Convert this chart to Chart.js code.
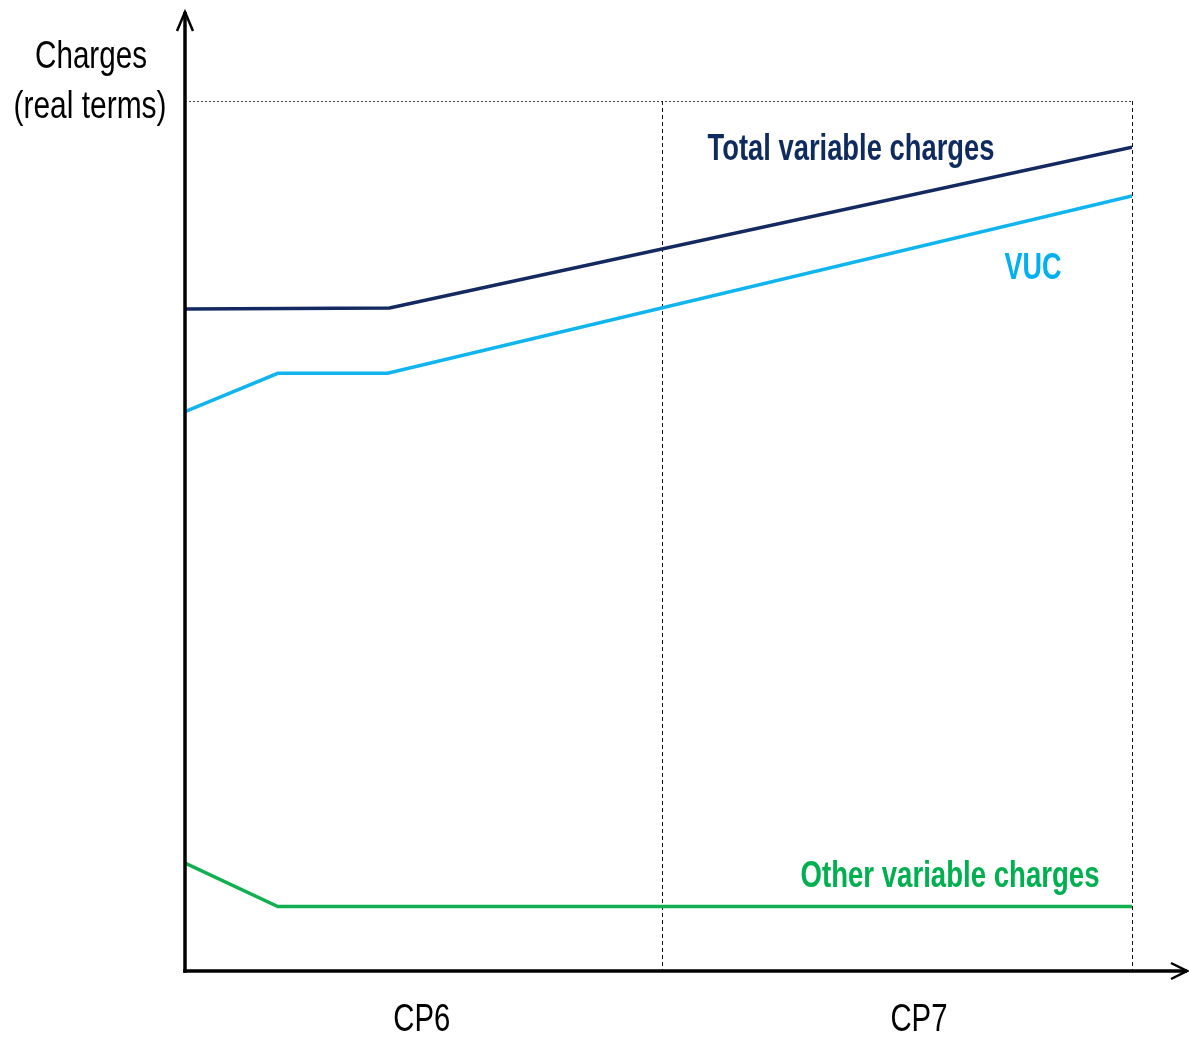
<!DOCTYPE html>
<html>
<head>
<meta charset="utf-8">
<script src="https://cdn.jsdelivr.net/npm/chart.js@4.4.0/dist/chart.umd.min.js"></script>
<style>
  html, body { margin: 0; padding: 0; background: #fff; }
  canvas { display: block; }
</style>
</head>
<body>
<canvas id="myChart" width="1189" height="1037"></canvas>
<script>
// data (x = position along the time axis 0..100, y = charge level 0..100)
const totalX = [0, 21.6, 100];
const totalY = [76.1, 76.2, 94.7];
const vucX = [0, 9.8, 21.4, 100];
const vucY = [64.3, 68.7, 68.7, 89.1];
const otherX = [0, 9.8, 100];
const otherY = [12.4, 7.4, 7.4];

const periodTicks = [25, 77.5];
const periodLabels = ["CP6", "CP7"];
const periodBounds = [50.4, 100];

const seriesNames = ["Total variable charges", "VUC", "Other variable charges"];
const yTitle = ["Charges", "(real terms)"];

const FONT = '"Liberation Sans", Arial, sans-serif';

function pts(xs, ys) {
  return xs.map((v, i) => ({ x: v, y: ys[i] }));
}

// draws text squeezed to a given width (the original uses a narrow font)
function fitText(ctx, text, cx, cy, font, color, width) {
  ctx.save();
  ctx.font = font;
  ctx.fillStyle = color;
  ctx.textAlign = "center";
  ctx.textBaseline = "middle";
  const w = ctx.measureText(text).width;
  const s = width / w;
  ctx.translate(cx, cy);
  ctx.scale(s, 1);
  ctx.fillText(text, 0, 0);
  ctx.restore();
}

const decor = {
  id: "decor",
  beforeDatasetsDraw(chart) {
    const ctx = chart.ctx;
    const a = chart.chartArea;
    const xs = chart.scales.x;
    ctx.save();
    // dotted top line
    ctx.strokeStyle = "#444";
    ctx.lineWidth = 1;
    ctx.setLineDash([2, 2]);
    ctx.beginPath();
    ctx.moveTo(a.left, a.top + 0.5);
    ctx.lineTo(a.right, a.top + 0.5);
    ctx.stroke();
    // dashed period boundaries
    ctx.strokeStyle = "#111";
    ctx.setLineDash([4, 3]);
    periodBounds.forEach(v => {
      const px = Math.round(xs.getPixelForValue(v)) + 0.5;
      ctx.beginPath();
      ctx.moveTo(px, a.top);
      ctx.lineTo(px, a.bottom);
      ctx.stroke();
    });
    ctx.restore();
  },
  afterDatasetsDraw(chart) {
    const ctx = chart.ctx;
    const a = chart.chartArea;
    const xs = chart.scales.x;
    ctx.save();
    ctx.strokeStyle = "#000";
    ctx.lineWidth = 3.5;
    ctx.setLineDash([]);
    ctx.lineCap = "butt";
    // y axis with arrow
    ctx.beginPath();
    ctx.moveTo(a.left, a.bottom + 1.75);
    ctx.lineTo(a.left, 12);
    ctx.stroke();
    ctx.lineWidth = 2.5;
    ctx.beginPath();
    ctx.moveTo(a.left - 8, 31);
    ctx.lineTo(a.left, 12);
    ctx.lineTo(a.left + 8, 31);
    ctx.stroke();
    // x axis with arrow
    ctx.lineWidth = 3.5;
    ctx.beginPath();
    ctx.moveTo(a.left - 1.75, a.bottom);
    ctx.lineTo(1187, a.bottom);
    ctx.stroke();
    ctx.lineWidth = 2.5;
    ctx.beginPath();
    ctx.moveTo(1171, a.bottom - 8);
    ctx.lineTo(1187, a.bottom);
    ctx.lineTo(1171, a.bottom + 8);
    ctx.stroke();
    ctx.restore();

    // y title
    fitText(ctx, yTitle[0], 91, 57, "39px " + FONT, "#000", 112);
    fitText(ctx, yTitle[1], 90, 107, "39px " + FONT, "#000", 153);
    // period labels
    periodTicks.forEach((v, i) => {
      fitText(ctx, periodLabels[i], xs.getPixelForValue(v), 1020, "39px " + FONT, "#000", 57);
    });
    // series labels
    fitText(ctx, seriesNames[0], 851, 150, "bold 37px " + FONT, "#0e2a5f", 287);
    fitText(ctx, seriesNames[1], 1033, 269, "bold 37px " + FONT, "#00b0f0", 57);
    fitText(ctx, seriesNames[2], 950, 877, "bold 37px " + FONT, "#00b050", 299);
  }
};

const ctx = document.getElementById("myChart").getContext("2d");

const chart1 = new Chart(ctx, {
  type: "line",
  data: {
    datasets: [
      {
        label: seriesNames[0],
        borderColor: "#13295f",
        borderWidth: 3.5,
        data: pts(totalX, totalY),
      },
      {
        label: seriesNames[1],
        borderColor: "#10b4ee",
        borderWidth: 3.5,
        data: pts(vucX, vucY),
      },
      {
        label: seriesNames[2],
        borderColor: "#10b050",
        borderWidth: 3.5,
        data: pts(otherX, otherY),
      },
    ],
  },
  options: {
    responsive: false,
    animation: false,
    layout: { padding: { left: 185, right: 57, top: 101, bottom: 66 } },
    elements: { point: { radius: 0 }, line: { tension: 0 } },
    plugins: { legend: { display: false }, tooltip: { enabled: false } },
    scales: {
      x: { type: "linear", min: 0, max: 100, display: false },
      y: { type: "linear", min: 0, max: 100, display: false },
    },
  },
  plugins: [decor],
});
</script>
</body>
</html>
